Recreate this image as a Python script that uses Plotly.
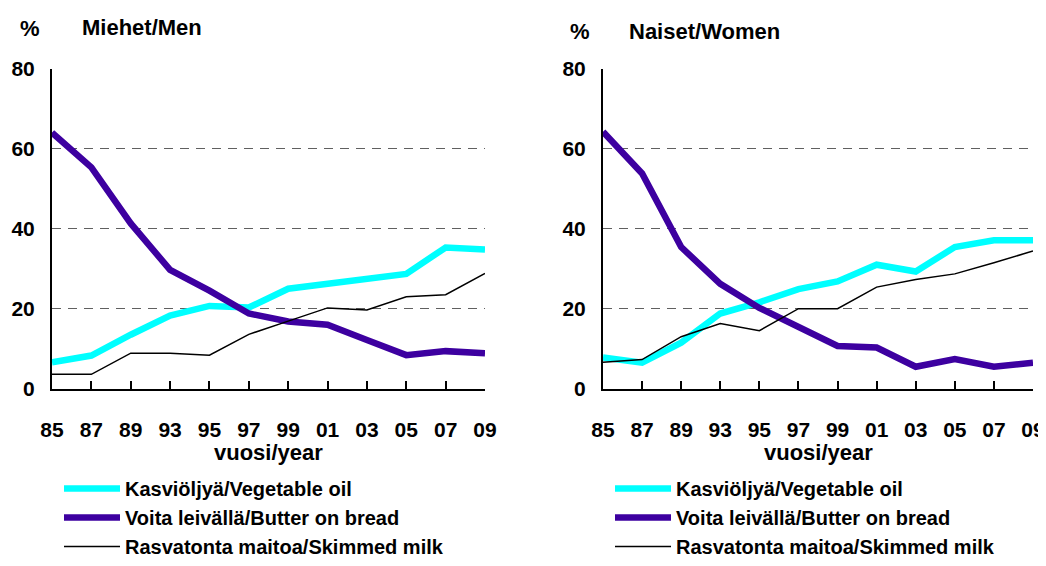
import plotly.graph_objects as go

years = ["85", "87", "89", "93", "95", "97", "99", "01", "03", "05", "07", "09"]

men_oil = [6.6, 8.3, 13.5, 18.3, 20.7, 20.3, 25.0, 26.3, 27.3, 28.7, 35.3, 34.8]
men_butter = [64.0, 55.3, 41.3, 29.7, 24.5, 18.8, 16.8, 16.0, 12.2, 8.4, 9.4, 8.9]
men_milk = [3.6, 3.6, 8.9, 8.9, 8.4, 13.6, 16.9, 20.2, 19.7, 23.0, 23.5, 28.8]

women_oil = [7.8, 6.5, 11.5, 18.8, 21.6, 24.9, 26.8, 31.0, 29.3, 35.4, 37.1, 37.1]
women_butter = [64.2, 53.8, 35.4, 26.2, 20.2, 15.3, 10.7, 10.3, 5.5, 7.4, 5.5, 6.5]
women_milk = [6.6, 7.3, 13.0, 16.3, 14.5, 20.0, 20.0, 25.4, 27.3, 28.7, 31.5, 34.4]

series_names = [
    "Kasviöljyä/Vegetable oil",
    "Voita leivällä/Butter on bread",
    "Rasvatonta maitoa/Skimmed milk",
]
colors = ["#00FFFF", "#3D00A0", "#000000"]
widths = [6.5, 6.5, 1.5]

panel_titles = ["Miehet/Men", "Naiset/Women"]
x_title = "vuosi/year"
y_ticks = [0, 20, 40, 60, 80]

# The page body has an 8px default margin; the figure is sized to fill the
# rest of the 1046x566 window and positions are given in window pixels.
OFF = 8
WIN_W, WIN_H = 1046, 566
W, H = WIN_W - OFF, WIN_H - OFF


def px(x):
    return (x - OFF) / W


def py(y):
    return 1 - (y - OFF) / H


FONT = "Liberation Sans, Arial, sans-serif"

x_idx = list(range(len(years)))

fig = go.Figure()

panels = [
    (men_oil, men_butter, men_milk),
    (women_oil, women_butter, women_milk),
]

for p, data in enumerate(panels):
    xa = "x" if p == 0 else "x2"
    ya = "y" if p == 0 else "y2"
    lg = "legend" if p == 0 else "legend2"
    for i, vals in enumerate(data):
        fig.add_trace(go.Scatter(
            x=x_idx, y=vals, mode="lines",
            line=dict(color=colors[i], width=widths[i]),
            name=series_names[i], xaxis=xa, yaxis=ya, legend=lg,
        ))

x_domains = [[px(52), px(485)], [px(603), px(1033)]]
y_domain = [py(391.5), py(69)]

tickfont = dict(family=FONT, size=21, color="black", weight="bold")

for p in range(2):
    sx = "" if p == 0 else "2"
    fig.update_layout(**{
        f"xaxis{sx}": dict(
            domain=x_domains[p], anchor=f"y{sx}", range=[0, 11],
            tickvals=x_idx, ticktext=years, ticks="inside", ticklen=8,
            tickwidth=1.5, tickcolor="black", showline=True, linecolor="black",
            linewidth=2, showgrid=False, zeroline=False, tickfont=tickfont,
            ticklabelstandoff=21, automargin=False, fixedrange=True,
        ),
        f"yaxis{sx}": dict(
            domain=y_domain, anchor=f"x{sx}", range=[0, 80],
            tickvals=y_ticks, ticks="", showline=True, linecolor="black",
            linewidth=2, showgrid=True, gridcolor="#606060", griddash="9px,7px",
            gridwidth=1, zeroline=False, tickfont=tickfont,
            ticklabelstandoff=11, automargin=False, fixedrange=True,
        ),
    })

legend_font = dict(family=FONT, size=20, color="black", weight="bold")
fig.update_layout(
    width=W, height=H,
    margin=dict(l=0, r=0, t=0, b=0),
    paper_bgcolor="white", plot_bgcolor="white",
    showlegend=True,
    legend=dict(x=px(59), y=py(472.5), xanchor="left", yanchor="top",
                font=legend_font, bgcolor="rgba(0,0,0,0)", itemwidth=56),
    legend2=dict(x=px(610), y=py(472.5), xanchor="left", yanchor="top",
                 font=legend_font, bgcolor="rgba(0,0,0,0)", itemwidth=56),
)

title_font = dict(family=FONT, size=22, color="black", weight="bold")
ann = [
    dict(text="%", x=px(30), y=py(29)),
    dict(text=panel_titles[0], x=px(80), y=py(28), xanchor="left"),
    dict(text="%", x=px(580), y=py(32)),
    dict(text=panel_titles[1], x=px(627), y=py(32), xanchor="left"),
    dict(text=x_title, x=px(268.5), y=py(455.5)),
    dict(text=x_title, x=px(818), y=py(455.5)),
]
for a in ann:
    fig.add_annotation(xref="paper", yref="paper", showarrow=False,
                       font=title_font, yanchor="middle",
                       xanchor=a.get("xanchor", "center"),
                       text=a["text"], x=a["x"], y=a["y"])

fig.write_html("out.html")
